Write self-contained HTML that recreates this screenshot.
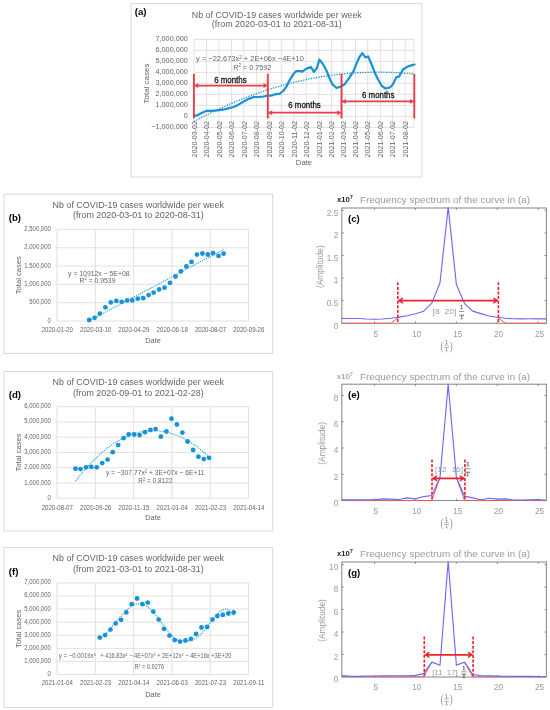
<!DOCTYPE html>
<html><head><meta charset="utf-8"><style>
html,body{margin:0;padding:0;background:#fff;}
svg{display:block;font-family:"Liberation Sans", sans-serif;filter:blur(0.35px);}
</style></head><body>
<svg width="550" height="710" viewBox="0 0 550 710">
<rect width="550" height="710" fill="#fff"/>
<rect x="131" y="3.5" width="291" height="173.5" fill="none" stroke="#d9d9d9" stroke-width="1"/>
<text x="134.8" y="14.6" font-size="9.6" fill="#000" text-anchor="start" font-weight="bold" >(a)</text>
<text x="276.8" y="17.7" font-size="8.85" fill="#646464" text-anchor="middle" textLength="170" lengthAdjust="spacingAndGlyphs" >Nb of COVID-19 cases worldwide per week</text>
<text x="276.8" y="27.2" font-size="8.85" fill="#646464" text-anchor="middle" textLength="130" lengthAdjust="spacingAndGlyphs" >(from 2020-03-01 to 2021-08-31)</text>
<line x1="194" y1="39.4" x2="414" y2="39.4" stroke="#d9d9d9" stroke-width="0.8" />
<line x1="194" y1="50.4" x2="414" y2="50.4" stroke="#d9d9d9" stroke-width="0.8" />
<line x1="194" y1="61.4" x2="414" y2="61.4" stroke="#d9d9d9" stroke-width="0.8" />
<line x1="194" y1="72.4" x2="414" y2="72.4" stroke="#d9d9d9" stroke-width="0.8" />
<line x1="194" y1="83.4" x2="414" y2="83.4" stroke="#d9d9d9" stroke-width="0.8" />
<line x1="194" y1="94.4" x2="414" y2="94.4" stroke="#d9d9d9" stroke-width="0.8" />
<line x1="194" y1="105.4" x2="414" y2="105.4" stroke="#d9d9d9" stroke-width="0.8" />
<line x1="194" y1="116.4" x2="414" y2="116.4" stroke="#d9d9d9" stroke-width="0.8" />
<line x1="194" y1="127.4" x2="414" y2="127.4" stroke="#d9d9d9" stroke-width="0.8" />
<line x1="194" y1="39.4" x2="194" y2="127.4" stroke="#d9d9d9" stroke-width="0.8" />
<line x1="206.64" y1="39.4" x2="206.64" y2="127.4" stroke="#d9d9d9" stroke-width="0.8" />
<line x1="218.88" y1="39.4" x2="218.88" y2="127.4" stroke="#d9d9d9" stroke-width="0.8" />
<line x1="231.52" y1="39.4" x2="231.52" y2="127.4" stroke="#d9d9d9" stroke-width="0.8" />
<line x1="243.75" y1="39.4" x2="243.75" y2="127.4" stroke="#d9d9d9" stroke-width="0.8" />
<line x1="256.39" y1="39.4" x2="256.39" y2="127.4" stroke="#d9d9d9" stroke-width="0.8" />
<line x1="269.04" y1="39.4" x2="269.04" y2="127.4" stroke="#d9d9d9" stroke-width="0.8" />
<line x1="281.27" y1="39.4" x2="281.27" y2="127.4" stroke="#d9d9d9" stroke-width="0.8" />
<line x1="293.91" y1="39.4" x2="293.91" y2="127.4" stroke="#d9d9d9" stroke-width="0.8" />
<line x1="306.14" y1="39.4" x2="306.14" y2="127.4" stroke="#d9d9d9" stroke-width="0.8" />
<line x1="318.79" y1="39.4" x2="318.79" y2="127.4" stroke="#d9d9d9" stroke-width="0.8" />
<line x1="331.43" y1="39.4" x2="331.43" y2="127.4" stroke="#d9d9d9" stroke-width="0.8" />
<line x1="342.85" y1="39.4" x2="342.85" y2="127.4" stroke="#d9d9d9" stroke-width="0.8" />
<line x1="355.49" y1="39.4" x2="355.49" y2="127.4" stroke="#d9d9d9" stroke-width="0.8" />
<line x1="367.72" y1="39.4" x2="367.72" y2="127.4" stroke="#d9d9d9" stroke-width="0.8" />
<line x1="380.36" y1="39.4" x2="380.36" y2="127.4" stroke="#d9d9d9" stroke-width="0.8" />
<line x1="392.6" y1="39.4" x2="392.6" y2="127.4" stroke="#d9d9d9" stroke-width="0.8" />
<line x1="405.24" y1="39.4" x2="405.24" y2="127.4" stroke="#d9d9d9" stroke-width="0.8" />
<line x1="414" y1="39.4" x2="414" y2="127.4" stroke="#d9d9d9" stroke-width="0.8" />
<text x="187.8" y="41.4" font-size="7.25" fill="#646464" text-anchor="end" >7,000,000</text>
<text x="187.8" y="52.4" font-size="7.25" fill="#646464" text-anchor="end" >6,000,000</text>
<text x="187.8" y="63.4" font-size="7.25" fill="#646464" text-anchor="end" >5,000,000</text>
<text x="187.8" y="74.4" font-size="7.25" fill="#646464" text-anchor="end" >4,000,000</text>
<text x="187.8" y="85.4" font-size="7.25" fill="#646464" text-anchor="end" >3,000,000</text>
<text x="187.8" y="96.4" font-size="7.25" fill="#646464" text-anchor="end" >2,000,000</text>
<text x="187.8" y="107.4" font-size="7.25" fill="#646464" text-anchor="end" >1,000,000</text>
<text x="187.8" y="118.4" font-size="7.25" fill="#646464" text-anchor="end" >0</text>
<text x="187.8" y="129.4" font-size="7.25" fill="#646464" text-anchor="end" >−1,000,000</text>
<text transform="translate(194.2,121) rotate(-90)" font-size="7.1" fill="#646464" text-anchor="end" dy="2.55" textLength="36.4" lengthAdjust="spacingAndGlyphs">2020-03-02</text>
<text transform="translate(206.84,121) rotate(-90)" font-size="7.1" fill="#646464" text-anchor="end" dy="2.55" textLength="36.4" lengthAdjust="spacingAndGlyphs">2020-04-02</text>
<text transform="translate(219.08,121) rotate(-90)" font-size="7.1" fill="#646464" text-anchor="end" dy="2.55" textLength="36.4" lengthAdjust="spacingAndGlyphs">2020-05-02</text>
<text transform="translate(231.72,121) rotate(-90)" font-size="7.1" fill="#646464" text-anchor="end" dy="2.55" textLength="36.4" lengthAdjust="spacingAndGlyphs">2020-06-02</text>
<text transform="translate(243.95,121) rotate(-90)" font-size="7.1" fill="#646464" text-anchor="end" dy="2.55" textLength="36.4" lengthAdjust="spacingAndGlyphs">2020-07-02</text>
<text transform="translate(256.59,121) rotate(-90)" font-size="7.1" fill="#646464" text-anchor="end" dy="2.55" textLength="36.4" lengthAdjust="spacingAndGlyphs">2020-08-02</text>
<text transform="translate(269.24,121) rotate(-90)" font-size="7.1" fill="#646464" text-anchor="end" dy="2.55" textLength="36.4" lengthAdjust="spacingAndGlyphs">2020-09-02</text>
<text transform="translate(281.47,121) rotate(-90)" font-size="7.1" fill="#646464" text-anchor="end" dy="2.55" textLength="36.4" lengthAdjust="spacingAndGlyphs">2020-10-02</text>
<text transform="translate(294.11,121) rotate(-90)" font-size="7.1" fill="#646464" text-anchor="end" dy="2.55" textLength="36.4" lengthAdjust="spacingAndGlyphs">2020-11-02</text>
<text transform="translate(306.34,121) rotate(-90)" font-size="7.1" fill="#646464" text-anchor="end" dy="2.55" textLength="36.4" lengthAdjust="spacingAndGlyphs">2020-12-02</text>
<text transform="translate(318.99,121) rotate(-90)" font-size="7.1" fill="#646464" text-anchor="end" dy="2.55" textLength="36.4" lengthAdjust="spacingAndGlyphs">2021-01-02</text>
<text transform="translate(331.63,121) rotate(-90)" font-size="7.1" fill="#646464" text-anchor="end" dy="2.55" textLength="36.4" lengthAdjust="spacingAndGlyphs">2021-02-02</text>
<text transform="translate(343.05,121) rotate(-90)" font-size="7.1" fill="#646464" text-anchor="end" dy="2.55" textLength="36.4" lengthAdjust="spacingAndGlyphs">2021-03-02</text>
<text transform="translate(355.69,121) rotate(-90)" font-size="7.1" fill="#646464" text-anchor="end" dy="2.55" textLength="36.4" lengthAdjust="spacingAndGlyphs">2021-04-02</text>
<text transform="translate(367.92,121) rotate(-90)" font-size="7.1" fill="#646464" text-anchor="end" dy="2.55" textLength="36.4" lengthAdjust="spacingAndGlyphs">2021-05-02</text>
<text transform="translate(380.56,121) rotate(-90)" font-size="7.1" fill="#646464" text-anchor="end" dy="2.55" textLength="36.4" lengthAdjust="spacingAndGlyphs">2021-06-02</text>
<text transform="translate(392.8,121) rotate(-90)" font-size="7.1" fill="#646464" text-anchor="end" dy="2.55" textLength="36.4" lengthAdjust="spacingAndGlyphs">2021-07-02</text>
<text transform="translate(405.44,121) rotate(-90)" font-size="7.1" fill="#646464" text-anchor="end" dy="2.55" textLength="36.4" lengthAdjust="spacingAndGlyphs">2021-08-02</text>
<text transform="translate(149.2,83.5) rotate(-90)" font-size="7.9" fill="#646464" text-anchor="middle" textLength="40" lengthAdjust="spacingAndGlyphs">Total cases</text>
<text x="304" y="164.9" font-size="7.8" fill="#646464" text-anchor="middle" textLength="16.4" lengthAdjust="spacingAndGlyphs" >Date</text>
<polyline points="194,121.43 196,120.37 198,119.31 200,118.27 202,117.24 204,116.22 206,115.21 208,114.22 210,113.23 212,112.26 214,111.3 216,110.35 218,109.41 220,108.49 222,107.57 224,106.67 226,105.78 228,104.9 230,104.03 232,103.17 234,102.33 236,101.5 238,100.68 240,99.87 242,99.07 244,98.28 246,97.51 248,96.75 250,95.99 252,95.25 254,94.53 256,93.81 258,93.11 260,92.41 262,91.73 264,91.06 266,90.4 268,89.76 270,89.12 272,88.5 274,87.89 276,87.29 278,86.7 280,86.12 282,85.56 284,85.01 286,84.47 288,83.94 290,83.42 292,82.91 294,82.42 296,81.93 298,81.46 300,81 302,80.55 304,80.12 306,79.69 308,79.28 310,78.88 312,78.49 314,78.11 316,77.74 318,77.39 320,77.04 322,76.71 324,76.39 326,76.08 328,75.79 330,75.5 332,75.23 334,74.97 336,74.72 338,74.48 340,74.25 342,74.04 344,73.83 346,73.64 348,73.46 350,73.29 352,73.14 354,72.99 356,72.86 358,72.74 360,72.63 362,72.53 364,72.44 366,72.37 368,72.3 370,72.25 372,72.21 374,72.18 376,72.17 378,72.16 380,72.17 382,72.18 384,72.21 386,72.26 388,72.31 390,72.37 392,72.45 394,72.54 396,72.64 398,72.75 400,72.87 402,73.01 404,73.15 406,73.31 408,73.48 410,73.66 412,73.85 414,74.06" fill="none" stroke="#1592d9" stroke-width="1.3" stroke-dasharray="1.3 1.3"/>
<polyline points="194.4,116.2 198.7,114.4 203.1,112.2 206.4,110.9 211.8,110.9 217.3,110.3 222.7,109.7 228.2,108.4 233.6,107 238,104.9 244.5,101 249.4,98.6 253.7,97 259.2,97 263.5,96.5 267.9,95.6 271.2,95.6 275,94.3 279.9,93.7 283.2,91 286.5,86.6 289.7,80.1 293,74.6 296.3,71.1 300.6,71.1 302.2,71.6 306.5,68.6 310.9,67.1 314,71.9 316.9,68.1 319.4,59.6 322.9,64 326.2,70 329.5,78.2 332.7,84.7 336.5,88 340.4,86.7 344.7,84.2 349.1,78.2 353.5,71.1 356.5,63.5 359.5,57 362.4,53.1 365.4,57.5 368.1,56.4 371.4,64 374.6,72.2 377.9,79.3 381.7,85.8 385.5,88.5 389.9,87.5 392.6,84.7 396.5,77.1 399.2,76.5 400.8,73.3 403,69.5 406.3,67.3 410.6,65.6 414.5,64.5" fill="none" stroke="#1592d9" stroke-width="2.2" stroke-linejoin="round" stroke-linecap="round"/>
<text x="250" y="61.3" font-size="7.4" fill="#646464" text-anchor="middle" textLength="107.8" lengthAdjust="spacingAndGlyphs" >y = −22.673x<tspan font-size="4.59" dy="-2.66">2</tspan><tspan dy="2.66"> + 2E+06x −4E+10</tspan></text>
<text x="252.2" y="69.6" font-size="7.3" fill="#646464" text-anchor="middle" textLength="38" lengthAdjust="spacingAndGlyphs" >R<tspan font-size="4.53" dy="-2.63">2</tspan><tspan dy="2.63"> = 0.7592</tspan></text>
<line x1="193.9" y1="73.8" x2="193.9" y2="118.5" stroke="#e63e48" stroke-width="1.9" />
<line x1="267.8" y1="73.8" x2="267.8" y2="118.5" stroke="#e63e48" stroke-width="1.9" />
<line x1="341.5" y1="73.8" x2="341.5" y2="118.5" stroke="#e63e48" stroke-width="1.9" />
<line x1="414.3" y1="73.8" x2="414.3" y2="118.5" stroke="#e63e48" stroke-width="1.9" />
<line x1="195.9" y1="85.6" x2="265.8" y2="85.6" stroke="#e63e48" stroke-width="1.75" />
<path d="M194.2,85.6 l4,-2 l-1,2 l1,2 z" fill="#e63e48" stroke="#e63e48" stroke-width="0.6" stroke-linejoin="round"/>
<path d="M267.5,85.6 l-4,-2 l1,2 l-1,2 z" fill="#e63e48" stroke="#e63e48" stroke-width="0.6" stroke-linejoin="round"/>
<line x1="269.8" y1="112.7" x2="339.5" y2="112.7" stroke="#e63e48" stroke-width="1.75" />
<path d="M268.1,112.7 l4,-2 l-1,2 l1,2 z" fill="#e63e48" stroke="#e63e48" stroke-width="0.6" stroke-linejoin="round"/>
<path d="M341.2,112.7 l-4,-2 l1,2 l-1,2 z" fill="#e63e48" stroke="#e63e48" stroke-width="0.6" stroke-linejoin="round"/>
<line x1="343.5" y1="101.4" x2="412.3" y2="101.4" stroke="#e63e48" stroke-width="1.75" />
<path d="M341.8,101.4 l4,-2 l-1,2 l1,2 z" fill="#e63e48" stroke="#e63e48" stroke-width="0.6" stroke-linejoin="round"/>
<path d="M414,101.4 l-4,-2 l1,2 l-1,2 z" fill="#e63e48" stroke="#e63e48" stroke-width="0.6" stroke-linejoin="round"/>
<text x="230.4" y="82.9" font-size="8.7" fill="#111" text-anchor="middle" textLength="32.4" lengthAdjust="spacingAndGlyphs" stroke="#111" stroke-width="0.28">6 months</text>
<text x="304.5" y="108.4" font-size="8.7" fill="#111" text-anchor="middle" textLength="32.4" lengthAdjust="spacingAndGlyphs" stroke="#111" stroke-width="0.28">6 months</text>
<text x="378.2" y="98.4" font-size="8.7" fill="#111" text-anchor="middle" textLength="32.4" lengthAdjust="spacingAndGlyphs" stroke="#111" stroke-width="0.28">6 months</text>
<rect x="4" y="194.1" width="268.7" height="159.3" fill="none" stroke="#d9d9d9" stroke-width="1"/>
<text x="8.8" y="221" font-size="9.6" fill="#000" text-anchor="start" font-weight="bold" >(b)</text>
<text x="138.3" y="207.7" font-size="8.9" fill="#646464" text-anchor="middle" textLength="171.4" lengthAdjust="spacingAndGlyphs" >Nb of COVID-19 cases worldwide per week</text>
<text x="138.3" y="218.3" font-size="8.9" fill="#646464" text-anchor="middle" textLength="130.7" lengthAdjust="spacingAndGlyphs" >(from 2020-03-01 to 2020-08-31)</text>
<line x1="57" y1="229.4" x2="248.5" y2="229.4" stroke="#d9d9d9" stroke-width="0.8" />
<line x1="57" y1="247.72" x2="248.5" y2="247.72" stroke="#d9d9d9" stroke-width="0.8" />
<line x1="57" y1="266.04" x2="248.5" y2="266.04" stroke="#d9d9d9" stroke-width="0.8" />
<line x1="57" y1="284.36" x2="248.5" y2="284.36" stroke="#d9d9d9" stroke-width="0.8" />
<line x1="57" y1="302.68" x2="248.5" y2="302.68" stroke="#d9d9d9" stroke-width="0.8" />
<line x1="57" y1="321" x2="248.5" y2="321" stroke="#d9d9d9" stroke-width="0.8" />
<line x1="57" y1="229.4" x2="57" y2="321" stroke="#d9d9d9" stroke-width="0.8" />
<line x1="95.3" y1="229.4" x2="95.3" y2="321" stroke="#d9d9d9" stroke-width="0.8" />
<line x1="133.6" y1="229.4" x2="133.6" y2="321" stroke="#d9d9d9" stroke-width="0.8" />
<line x1="171.9" y1="229.4" x2="171.9" y2="321" stroke="#d9d9d9" stroke-width="0.8" />
<line x1="210.2" y1="229.4" x2="210.2" y2="321" stroke="#d9d9d9" stroke-width="0.8" />
<line x1="248.5" y1="229.4" x2="248.5" y2="321" stroke="#d9d9d9" stroke-width="0.8" />
<text x="50.8" y="230.9" font-size="6.6" fill="#646464" text-anchor="end" textLength="26.47" lengthAdjust="spacingAndGlyphs" >2,500,000</text>
<text x="50.8" y="249.22" font-size="6.6" fill="#646464" text-anchor="end" textLength="26.47" lengthAdjust="spacingAndGlyphs" >2,000,000</text>
<text x="50.8" y="267.54" font-size="6.6" fill="#646464" text-anchor="end" textLength="26.47" lengthAdjust="spacingAndGlyphs" >1,500,000</text>
<text x="50.8" y="285.86" font-size="6.6" fill="#646464" text-anchor="end" textLength="26.47" lengthAdjust="spacingAndGlyphs" >1,000,000</text>
<text x="50.8" y="304.18" font-size="6.6" fill="#646464" text-anchor="end" textLength="21.5" lengthAdjust="spacingAndGlyphs" >500,000</text>
<text x="50.8" y="322.5" font-size="6.6" fill="#646464" text-anchor="end" textLength="3.31" lengthAdjust="spacingAndGlyphs" >0</text>
<text x="57.3" y="331.8" font-size="6.7" fill="#646464" text-anchor="middle" textLength="31.2" lengthAdjust="spacingAndGlyphs" >2020-01-20</text>
<text x="95.6" y="331.8" font-size="6.7" fill="#646464" text-anchor="middle" textLength="31.2" lengthAdjust="spacingAndGlyphs" >2020-03-10</text>
<text x="133.9" y="331.8" font-size="6.7" fill="#646464" text-anchor="middle" textLength="31.2" lengthAdjust="spacingAndGlyphs" >2020-04-29</text>
<text x="172.2" y="331.8" font-size="6.7" fill="#646464" text-anchor="middle" textLength="31.2" lengthAdjust="spacingAndGlyphs" >2020-06-18</text>
<text x="210.5" y="331.8" font-size="6.7" fill="#646464" text-anchor="middle" textLength="31.2" lengthAdjust="spacingAndGlyphs" >2020-08-07</text>
<text x="248.8" y="331.8" font-size="6.7" fill="#646464" text-anchor="middle" textLength="31.2" lengthAdjust="spacingAndGlyphs" >2020-09-26</text>
<text transform="translate(20.6,275.2) rotate(-90)" font-size="7.6" fill="#646464" text-anchor="middle" textLength="38" lengthAdjust="spacingAndGlyphs">Total cases</text>
<text x="153" y="343" font-size="7.4" fill="#646464" text-anchor="middle" textLength="15.7" lengthAdjust="spacingAndGlyphs" >Date</text>
<polyline points="89.3,320.6 224,249.3" fill="none" stroke="#1592d9" stroke-width="1.05" stroke-dasharray="1.1 1.1"/>
<circle cx="89.2" cy="320" r="2.4" fill="#1592d9"/>
<circle cx="94.6" cy="317.8" r="2.4" fill="#1592d9"/>
<circle cx="99.9" cy="313.6" r="2.4" fill="#1592d9"/>
<circle cx="105.4" cy="307.3" r="2.4" fill="#1592d9"/>
<circle cx="110.8" cy="302.4" r="2.4" fill="#1592d9"/>
<circle cx="116.3" cy="300.9" r="2.4" fill="#1592d9"/>
<circle cx="121.7" cy="301.8" r="2.4" fill="#1592d9"/>
<circle cx="127.2" cy="300.4" r="2.4" fill="#1592d9"/>
<circle cx="132.3" cy="300.4" r="2.4" fill="#1592d9"/>
<circle cx="137.7" cy="298.7" r="2.4" fill="#1592d9"/>
<circle cx="143.2" cy="298.2" r="2.4" fill="#1592d9"/>
<circle cx="148.6" cy="295.1" r="2.4" fill="#1592d9"/>
<circle cx="153.6" cy="292.6" r="2.4" fill="#1592d9"/>
<circle cx="159.1" cy="289.5" r="2.4" fill="#1592d9"/>
<circle cx="164.5" cy="287.7" r="2.4" fill="#1592d9"/>
<circle cx="170" cy="282.8" r="2.4" fill="#1592d9"/>
<circle cx="175.5" cy="276.5" r="2.4" fill="#1592d9"/>
<circle cx="180.9" cy="271.4" r="2.4" fill="#1592d9"/>
<circle cx="186.4" cy="266.5" r="2.4" fill="#1592d9"/>
<circle cx="191.5" cy="261.9" r="2.4" fill="#1592d9"/>
<circle cx="196.9" cy="254.6" r="2.4" fill="#1592d9"/>
<circle cx="202.4" cy="253.5" r="2.4" fill="#1592d9"/>
<circle cx="207.8" cy="254.5" r="2.4" fill="#1592d9"/>
<circle cx="213.1" cy="253.2" r="2.4" fill="#1592d9"/>
<circle cx="218.5" cy="255.9" r="2.4" fill="#1592d9"/>
<circle cx="223.6" cy="253.7" r="2.4" fill="#1592d9"/>
<text x="98.8" y="275.7" font-size="7.2" fill="#646464" text-anchor="middle" textLength="61.4" lengthAdjust="spacingAndGlyphs" >y = 10912x − 5E+08</text>
<text x="97.5" y="282.6" font-size="7.2" fill="#646464" text-anchor="middle" textLength="35.9" lengthAdjust="spacingAndGlyphs" >R<tspan font-size="4.46" dy="-2.59">2</tspan><tspan dy="2.59"> = 0.9539</tspan></text>
<rect x="4" y="371.5" width="268.7" height="159.5" fill="none" stroke="#d9d9d9" stroke-width="1"/>
<text x="8.8" y="398.3" font-size="9.6" fill="#000" text-anchor="start" font-weight="bold" >(d)</text>
<text x="138.3" y="385" font-size="8.9" fill="#646464" text-anchor="middle" textLength="171.4" lengthAdjust="spacingAndGlyphs" >Nb of COVID-19 cases worldwide per week</text>
<text x="138.3" y="395.6" font-size="8.9" fill="#646464" text-anchor="middle" textLength="130.7" lengthAdjust="spacingAndGlyphs" >(from 2020-09-01 to 2021-02-28)</text>
<line x1="57" y1="406.7" x2="248.5" y2="406.7" stroke="#d9d9d9" stroke-width="0.8" />
<line x1="57" y1="421.97" x2="248.5" y2="421.97" stroke="#d9d9d9" stroke-width="0.8" />
<line x1="57" y1="437.23" x2="248.5" y2="437.23" stroke="#d9d9d9" stroke-width="0.8" />
<line x1="57" y1="452.5" x2="248.5" y2="452.5" stroke="#d9d9d9" stroke-width="0.8" />
<line x1="57" y1="467.77" x2="248.5" y2="467.77" stroke="#d9d9d9" stroke-width="0.8" />
<line x1="57" y1="483.03" x2="248.5" y2="483.03" stroke="#d9d9d9" stroke-width="0.8" />
<line x1="57" y1="498.3" x2="248.5" y2="498.3" stroke="#d9d9d9" stroke-width="0.8" />
<line x1="57" y1="406.7" x2="57" y2="498.3" stroke="#d9d9d9" stroke-width="0.8" />
<line x1="95.3" y1="406.7" x2="95.3" y2="498.3" stroke="#d9d9d9" stroke-width="0.8" />
<line x1="133.6" y1="406.7" x2="133.6" y2="498.3" stroke="#d9d9d9" stroke-width="0.8" />
<line x1="171.9" y1="406.7" x2="171.9" y2="498.3" stroke="#d9d9d9" stroke-width="0.8" />
<line x1="210.2" y1="406.7" x2="210.2" y2="498.3" stroke="#d9d9d9" stroke-width="0.8" />
<line x1="248.5" y1="406.7" x2="248.5" y2="498.3" stroke="#d9d9d9" stroke-width="0.8" />
<text x="50.8" y="408.2" font-size="6.6" fill="#646464" text-anchor="end" textLength="26.47" lengthAdjust="spacingAndGlyphs" >6,000,000</text>
<text x="50.8" y="423.47" font-size="6.6" fill="#646464" text-anchor="end" textLength="26.47" lengthAdjust="spacingAndGlyphs" >5,000,000</text>
<text x="50.8" y="438.73" font-size="6.6" fill="#646464" text-anchor="end" textLength="26.47" lengthAdjust="spacingAndGlyphs" >4,000,000</text>
<text x="50.8" y="454" font-size="6.6" fill="#646464" text-anchor="end" textLength="26.47" lengthAdjust="spacingAndGlyphs" >3,000,000</text>
<text x="50.8" y="469.27" font-size="6.6" fill="#646464" text-anchor="end" textLength="26.47" lengthAdjust="spacingAndGlyphs" >2,000,000</text>
<text x="50.8" y="484.53" font-size="6.6" fill="#646464" text-anchor="end" textLength="26.47" lengthAdjust="spacingAndGlyphs" >1,000,000</text>
<text x="50.8" y="499.8" font-size="6.6" fill="#646464" text-anchor="end" textLength="3.31" lengthAdjust="spacingAndGlyphs" >0</text>
<text x="57.3" y="510" font-size="6.7" fill="#646464" text-anchor="middle" textLength="31.2" lengthAdjust="spacingAndGlyphs" >2020-08-07</text>
<text x="95.6" y="510" font-size="6.7" fill="#646464" text-anchor="middle" textLength="31.2" lengthAdjust="spacingAndGlyphs" >2020-09-26</text>
<text x="133.9" y="510" font-size="6.7" fill="#646464" text-anchor="middle" textLength="31.2" lengthAdjust="spacingAndGlyphs" >2020-11-15</text>
<text x="172.2" y="510" font-size="6.7" fill="#646464" text-anchor="middle" textLength="31.2" lengthAdjust="spacingAndGlyphs" >2021-01-04</text>
<text x="210.5" y="510" font-size="6.7" fill="#646464" text-anchor="middle" textLength="31.2" lengthAdjust="spacingAndGlyphs" >2021-02-23</text>
<text x="248.8" y="510" font-size="6.7" fill="#646464" text-anchor="middle" textLength="31.2" lengthAdjust="spacingAndGlyphs" >2021-04-14</text>
<text transform="translate(20.6,452.5) rotate(-90)" font-size="7.6" fill="#646464" text-anchor="middle" textLength="38" lengthAdjust="spacingAndGlyphs">Total cases</text>
<text x="153" y="520.3" font-size="7.4" fill="#646464" text-anchor="middle" textLength="15.7" lengthAdjust="spacingAndGlyphs" >Date</text>
<polyline points="75.5,481.13 77.5,478.56 79.5,476.06 81.5,473.62 83.5,471.25 85.5,468.95 87.5,466.72 89.5,464.55 91.5,462.45 93.5,460.42 95.5,458.46 97.5,456.56 99.5,454.73 101.5,452.96 103.5,451.27 105.5,449.64 107.5,448.07 109.5,446.58 111.5,445.15 113.5,443.79 115.5,442.49 117.5,441.27 119.5,440.11 121.5,439.01 123.5,437.99 125.5,437.03 127.5,436.14 129.5,435.31 131.5,434.56 133.5,433.87 135.5,433.24 137.5,432.69 139.5,432.2 141.5,431.77 143.5,431.42 145.5,431.13 147.5,430.91 149.5,430.76 151.5,430.67 153.5,430.65 155.5,430.7 157.5,430.81 159.5,431 161.5,431.24 163.5,431.56 165.5,431.94 167.5,432.39 169.5,432.91 171.5,433.5 173.5,434.15 175.5,434.87 177.5,435.65 179.5,436.5 181.5,437.42 183.5,438.41 185.5,439.47 187.5,440.59 189.5,441.77 191.5,443.03 193.5,444.35 195.5,445.74 197.5,447.2 199.5,448.72 201.5,450.31 203.5,451.97 205.5,453.7 207.5,455.49" fill="none" stroke="#1592d9" stroke-width="1.05" stroke-dasharray="1.1 1.1"/>
<circle cx="75.5" cy="468.7" r="2.4" fill="#1592d9"/>
<circle cx="80.5" cy="469.1" r="2.4" fill="#1592d9"/>
<circle cx="86" cy="467.3" r="2.4" fill="#1592d9"/>
<circle cx="91.3" cy="466.9" r="2.4" fill="#1592d9"/>
<circle cx="96.7" cy="467.3" r="2.4" fill="#1592d9"/>
<circle cx="102.2" cy="463.1" r="2.4" fill="#1592d9"/>
<circle cx="107.6" cy="459.6" r="2.4" fill="#1592d9"/>
<circle cx="112.7" cy="452.2" r="2.4" fill="#1592d9"/>
<circle cx="118.2" cy="445.1" r="2.4" fill="#1592d9"/>
<circle cx="123.6" cy="438.2" r="2.4" fill="#1592d9"/>
<circle cx="128.7" cy="434.5" r="2.4" fill="#1592d9"/>
<circle cx="134.2" cy="434.5" r="2.4" fill="#1592d9"/>
<circle cx="139.6" cy="435.1" r="2.4" fill="#1592d9"/>
<circle cx="144.9" cy="432.2" r="2.4" fill="#1592d9"/>
<circle cx="150.4" cy="430" r="2.4" fill="#1592d9"/>
<circle cx="155.6" cy="429.1" r="2.4" fill="#1592d9"/>
<circle cx="160.9" cy="436.7" r="2.4" fill="#1592d9"/>
<circle cx="166.4" cy="431.5" r="2.4" fill="#1592d9"/>
<circle cx="171.5" cy="418.7" r="2.4" fill="#1592d9"/>
<circle cx="176.9" cy="424.5" r="2.4" fill="#1592d9"/>
<circle cx="182.4" cy="432.7" r="2.4" fill="#1592d9"/>
<circle cx="187.6" cy="441.5" r="2.4" fill="#1592d9"/>
<circle cx="193.1" cy="450" r="2.4" fill="#1592d9"/>
<circle cx="198.4" cy="456.7" r="2.4" fill="#1592d9"/>
<circle cx="203.8" cy="459.1" r="2.4" fill="#1592d9"/>
<circle cx="209.1" cy="457.8" r="2.4" fill="#1592d9"/>
<text x="155.2" y="475.3" font-size="7.2" fill="#646464" text-anchor="middle" textLength="98.6" lengthAdjust="spacingAndGlyphs" >y = −307.77x<tspan font-size="4.46" dy="-2.59">2</tspan><tspan dy="2.59"> + 3E+07x − 6E+11</tspan></text>
<text x="155.4" y="483.3" font-size="7.2" fill="#646464" text-anchor="middle" textLength="34.3" lengthAdjust="spacingAndGlyphs" >R<tspan font-size="4.46" dy="-2.59">2</tspan><tspan dy="2.59"> = 0.8122</tspan></text>
<rect x="4" y="547.6" width="268.7" height="159.8" fill="none" stroke="#d9d9d9" stroke-width="1"/>
<text x="8.8" y="574.5" font-size="9.6" fill="#000" text-anchor="start" font-weight="bold" >(f)</text>
<text x="138.3" y="561.2" font-size="8.9" fill="#646464" text-anchor="middle" textLength="171.4" lengthAdjust="spacingAndGlyphs" >Nb of COVID-19 cases worldwide per week</text>
<text x="138.3" y="571.8" font-size="8.9" fill="#646464" text-anchor="middle" textLength="130.7" lengthAdjust="spacingAndGlyphs" >(from 2021-03-01 to 2021-08-31)</text>
<line x1="57" y1="582.9" x2="248.5" y2="582.9" stroke="#d9d9d9" stroke-width="0.8" />
<line x1="57" y1="595.99" x2="248.5" y2="595.99" stroke="#d9d9d9" stroke-width="0.8" />
<line x1="57" y1="609.07" x2="248.5" y2="609.07" stroke="#d9d9d9" stroke-width="0.8" />
<line x1="57" y1="622.16" x2="248.5" y2="622.16" stroke="#d9d9d9" stroke-width="0.8" />
<line x1="57" y1="635.24" x2="248.5" y2="635.24" stroke="#d9d9d9" stroke-width="0.8" />
<line x1="57" y1="648.33" x2="248.5" y2="648.33" stroke="#d9d9d9" stroke-width="0.8" />
<line x1="57" y1="661.41" x2="248.5" y2="661.41" stroke="#d9d9d9" stroke-width="0.8" />
<line x1="57" y1="674.5" x2="248.5" y2="674.5" stroke="#d9d9d9" stroke-width="0.8" />
<line x1="57" y1="582.9" x2="57" y2="674.5" stroke="#d9d9d9" stroke-width="0.8" />
<line x1="95.3" y1="582.9" x2="95.3" y2="674.5" stroke="#d9d9d9" stroke-width="0.8" />
<line x1="133.6" y1="582.9" x2="133.6" y2="674.5" stroke="#d9d9d9" stroke-width="0.8" />
<line x1="171.9" y1="582.9" x2="171.9" y2="674.5" stroke="#d9d9d9" stroke-width="0.8" />
<line x1="210.2" y1="582.9" x2="210.2" y2="674.5" stroke="#d9d9d9" stroke-width="0.8" />
<line x1="248.5" y1="582.9" x2="248.5" y2="674.5" stroke="#d9d9d9" stroke-width="0.8" />
<text x="50.8" y="584.4" font-size="6.6" fill="#646464" text-anchor="end" textLength="26.47" lengthAdjust="spacingAndGlyphs" >7,000,000</text>
<text x="50.8" y="597.49" font-size="6.6" fill="#646464" text-anchor="end" textLength="26.47" lengthAdjust="spacingAndGlyphs" >6,000,000</text>
<text x="50.8" y="610.57" font-size="6.6" fill="#646464" text-anchor="end" textLength="26.47" lengthAdjust="spacingAndGlyphs" >5,000,000</text>
<text x="50.8" y="623.66" font-size="6.6" fill="#646464" text-anchor="end" textLength="26.47" lengthAdjust="spacingAndGlyphs" >4,000,000</text>
<text x="50.8" y="636.74" font-size="6.6" fill="#646464" text-anchor="end" textLength="26.47" lengthAdjust="spacingAndGlyphs" >3,000,000</text>
<text x="50.8" y="649.83" font-size="6.6" fill="#646464" text-anchor="end" textLength="26.47" lengthAdjust="spacingAndGlyphs" >2,000,000</text>
<text x="50.8" y="662.91" font-size="6.6" fill="#646464" text-anchor="end" textLength="26.47" lengthAdjust="spacingAndGlyphs" >1,000,000</text>
<text x="50.8" y="676" font-size="6.6" fill="#646464" text-anchor="end" textLength="3.31" lengthAdjust="spacingAndGlyphs" >0</text>
<text x="57.3" y="685.3" font-size="6.7" fill="#646464" text-anchor="middle" textLength="31.2" lengthAdjust="spacingAndGlyphs" >2021-01-04</text>
<text x="95.6" y="685.3" font-size="6.7" fill="#646464" text-anchor="middle" textLength="31.2" lengthAdjust="spacingAndGlyphs" >2021-02-23</text>
<text x="133.9" y="685.3" font-size="6.7" fill="#646464" text-anchor="middle" textLength="31.2" lengthAdjust="spacingAndGlyphs" >2021-04-14</text>
<text x="172.2" y="685.3" font-size="6.7" fill="#646464" text-anchor="middle" textLength="31.2" lengthAdjust="spacingAndGlyphs" >2021-06-03</text>
<text x="210.5" y="685.3" font-size="6.7" fill="#646464" text-anchor="middle" textLength="31.2" lengthAdjust="spacingAndGlyphs" >2021-07-23</text>
<text x="248.8" y="685.3" font-size="6.7" fill="#646464" text-anchor="middle" textLength="31.2" lengthAdjust="spacingAndGlyphs" >2021-09-11</text>
<text transform="translate(20.6,628.7) rotate(-90)" font-size="7.6" fill="#646464" text-anchor="middle" textLength="38" lengthAdjust="spacingAndGlyphs">Total cases</text>
<text x="153" y="696.5" font-size="7.4" fill="#646464" text-anchor="middle" textLength="15.7" lengthAdjust="spacingAndGlyphs" >Date</text>
<polyline points="99.8,639 105,634.5 110.5,628.5 116,622 121,616.5 126.5,610.5 132,605.5 137,603.6 142,604 147,606.5 152,610.5 157,616.5 162,623 167,630 172,636 177,639.8 182,641.2 187,641.2 191.5,640.5 195.9,638.4 199.1,636.2 202.3,632.7 206.1,628.6 209.6,623.5 212.5,619.6 216.8,614.5 221.4,610.2 225,608.8 227.7,609.3 230.5,611.6 233.7,615.8" fill="none" stroke="#1592d9" stroke-width="1.05" stroke-dasharray="1.1 1.1"/>
<circle cx="99.8" cy="637.6" r="2.4" fill="#1592d9"/>
<circle cx="105.1" cy="635.1" r="2.4" fill="#1592d9"/>
<circle cx="110.5" cy="629.6" r="2.4" fill="#1592d9"/>
<circle cx="115.7" cy="623.4" r="2.4" fill="#1592d9"/>
<circle cx="121.1" cy="619.8" r="2.4" fill="#1592d9"/>
<circle cx="126.3" cy="612.4" r="2.4" fill="#1592d9"/>
<circle cx="131.7" cy="604.2" r="2.4" fill="#1592d9"/>
<circle cx="137.1" cy="598.5" r="2.4" fill="#1592d9"/>
<circle cx="142.4" cy="604.2" r="2.4" fill="#1592d9"/>
<circle cx="147.8" cy="602.6" r="2.4" fill="#1592d9"/>
<circle cx="153.3" cy="611.6" r="2.4" fill="#1592d9"/>
<circle cx="158.7" cy="619.6" r="2.4" fill="#1592d9"/>
<circle cx="164" cy="628.8" r="2.4" fill="#1592d9"/>
<circle cx="169.5" cy="635.6" r="2.4" fill="#1592d9"/>
<circle cx="174.7" cy="640.1" r="2.4" fill="#1592d9"/>
<circle cx="180.1" cy="641.6" r="2.4" fill="#1592d9"/>
<circle cx="185.5" cy="640.5" r="2.4" fill="#1592d9"/>
<circle cx="190.9" cy="638.9" r="2.4" fill="#1592d9"/>
<circle cx="196.1" cy="634" r="2.4" fill="#1592d9"/>
<circle cx="201.5" cy="627.5" r="2.4" fill="#1592d9"/>
<circle cx="207.1" cy="627" r="2.4" fill="#1592d9"/>
<circle cx="212.5" cy="619.6" r="2.4" fill="#1592d9"/>
<circle cx="217.4" cy="616" r="2.4" fill="#1592d9"/>
<circle cx="222.8" cy="614.9" r="2.4" fill="#1592d9"/>
<circle cx="228.3" cy="613.5" r="2.4" fill="#1592d9"/>
<circle cx="233.7" cy="612.4" r="2.4" fill="#1592d9"/>
<text x="77.3" y="658.2" font-size="7" fill="#646464" text-anchor="middle" textLength="36.9" lengthAdjust="spacingAndGlyphs" >y = −0.0019x<tspan font-size="4.34" dy="-2.52">5</tspan></text>
<text x="165.8" y="658.2" font-size="7" fill="#646464" text-anchor="middle" textLength="131" lengthAdjust="spacingAndGlyphs" >+ 416.83x<tspan font-size="4.34" dy="-2.52">4</tspan><tspan dy="2.52"> − 4E+07x</tspan><tspan font-size="4.34" dy="-2.52">3</tspan><tspan dy="2.52"> + 2E+12x</tspan><tspan font-size="4.34" dy="-2.52">2</tspan><tspan dy="2.52"> − 4E+16x +3E+20</tspan></text>
<text x="149.3" y="669.1" font-size="6.8" fill="#646464" text-anchor="middle" textLength="29.5" lengthAdjust="spacingAndGlyphs" >R<tspan font-size="4.22" dy="-2.45">2</tspan><tspan dy="2.45"> = 0.9276</tspan></text>
<text x="337" y="201.9" font-size="7.6" fill="#262626" text-anchor="start" font-weight="bold" textLength="12.8" lengthAdjust="spacingAndGlyphs" >x10</text>
<text x="350" y="199.2" font-size="5" fill="#262626" text-anchor="start" font-weight="bold" >7</text>
<text x="360" y="202.5" font-size="9.9" fill="#9a9a9a" text-anchor="start" textLength="170" lengthAdjust="spacingAndGlyphs" >Frequency spectrum of the curve in (a)</text>
<rect x="341.8" y="208" width="204.6" height="115.3" fill="none" stroke="#8f8f8f" stroke-width="1.1"/>
<line x1="374.54" y1="323.3" x2="374.54" y2="321.3" stroke="#555" stroke-width="0.6" />
<line x1="374.54" y1="208" x2="374.54" y2="210" stroke="#555" stroke-width="0.6" />
<text x="375.84" y="336.7" font-size="8.2" fill="#9a9a9a" text-anchor="middle" >5</text>
<line x1="415.46" y1="323.3" x2="415.46" y2="321.3" stroke="#555" stroke-width="0.6" />
<line x1="415.46" y1="208" x2="415.46" y2="210" stroke="#555" stroke-width="0.6" />
<text x="416.76" y="336.7" font-size="8.2" fill="#9a9a9a" text-anchor="middle" >10</text>
<line x1="456.38" y1="323.3" x2="456.38" y2="321.3" stroke="#555" stroke-width="0.6" />
<line x1="456.38" y1="208" x2="456.38" y2="210" stroke="#555" stroke-width="0.6" />
<text x="457.68" y="336.7" font-size="8.2" fill="#9a9a9a" text-anchor="middle" >15</text>
<line x1="497.3" y1="323.3" x2="497.3" y2="321.3" stroke="#555" stroke-width="0.6" />
<line x1="497.3" y1="208" x2="497.3" y2="210" stroke="#555" stroke-width="0.6" />
<text x="498.6" y="336.7" font-size="8.2" fill="#9a9a9a" text-anchor="middle" >20</text>
<line x1="538.22" y1="323.3" x2="538.22" y2="321.3" stroke="#555" stroke-width="0.6" />
<line x1="538.22" y1="208" x2="538.22" y2="210" stroke="#555" stroke-width="0.6" />
<text x="539.52" y="336.7" font-size="8.2" fill="#9a9a9a" text-anchor="middle" >25</text>
<line x1="341.8" y1="210.31" x2="343.8" y2="210.31" stroke="#555" stroke-width="0.6" />
<line x1="546.4" y1="210.31" x2="544.4" y2="210.31" stroke="#555" stroke-width="0.6" />
<text x="338.2" y="215.61" font-size="8.2" fill="#9a9a9a" text-anchor="end" >2.5</text>
<line x1="341.8" y1="232.9" x2="343.8" y2="232.9" stroke="#555" stroke-width="0.6" />
<line x1="546.4" y1="232.9" x2="544.4" y2="232.9" stroke="#555" stroke-width="0.6" />
<text x="338.2" y="238.2" font-size="8.2" fill="#9a9a9a" text-anchor="end" >2</text>
<line x1="341.8" y1="255.5" x2="343.8" y2="255.5" stroke="#555" stroke-width="0.6" />
<line x1="546.4" y1="255.5" x2="544.4" y2="255.5" stroke="#555" stroke-width="0.6" />
<text x="338.2" y="260.8" font-size="8.2" fill="#9a9a9a" text-anchor="end" >1.5</text>
<line x1="341.8" y1="278.1" x2="343.8" y2="278.1" stroke="#555" stroke-width="0.6" />
<line x1="546.4" y1="278.1" x2="544.4" y2="278.1" stroke="#555" stroke-width="0.6" />
<text x="338.2" y="283.4" font-size="8.2" fill="#9a9a9a" text-anchor="end" >1</text>
<line x1="341.8" y1="300.7" x2="343.8" y2="300.7" stroke="#555" stroke-width="0.6" />
<line x1="546.4" y1="300.7" x2="544.4" y2="300.7" stroke="#555" stroke-width="0.6" />
<text x="338.2" y="306" font-size="8.2" fill="#9a9a9a" text-anchor="end" >0.5</text>
<text x="338.2" y="328.6" font-size="8.2" fill="#9a9a9a" text-anchor="end" >0</text>
<text transform="translate(322.5,266.65) rotate(-90)" font-size="8.3" fill="#9a9a9a" text-anchor="middle" textLength="42.7" lengthAdjust="spacingAndGlyphs">(Amplitude)</text>
<text x="0" y="0" font-size="13" fill="#9a9a9a" text-anchor="middle" font-family='&quot;Liberation Serif&quot;, serif' transform="translate(442.2,349.6) scale(0.75,1) translate(0,0)">(</text>
<text x="0" y="0" font-size="13" fill="#9a9a9a" text-anchor="middle" font-family='&quot;Liberation Serif&quot;, serif' transform="translate(451.2,349.6) scale(0.75,1) translate(0,0)">)</text>
<text x="446.6" y="344.1" font-size="6.2" fill="#9a9a9a" text-anchor="middle" font-family='"Liberation Serif", serif' stroke="#9a9a9a" stroke-width="0.25">1</text>
<line x1="444.3" y1="345.3" x2="448.9" y2="345.3" stroke="#9a9a9a" stroke-width="0.7" />
<text x="446.6" y="351" font-size="6.2" fill="#9a9a9a" text-anchor="middle" font-family='"Liberation Serif", serif' stroke="#9a9a9a" stroke-width="0.25">T</text>
<clipPath id="clipc"><rect x="341.8" y="207.5" width="204.6" height="116.3"/></clipPath>
<polyline points="341.8,323.3 349.98,323.3 358.17,323.3 366.35,323.3 374.54,323.3 382.72,323.3 390.9,323.3 399.09,317.1" fill="none" stroke="#ff5050" stroke-width="1" clip-path="url(#clipc)" stroke-linejoin="round"/>
<polyline points="497.3,317.3 505.48,323.3 513.66,323.3 521.85,323.3 530.03,323.3 538.22,323.3 546.4,323.3" fill="none" stroke="#ff5050" stroke-width="1" clip-path="url(#clipc)" stroke-linejoin="round"/>
<polyline points="341.8,318.5 349.98,318.5 358.17,318.5 366.35,319 374.54,319.3 382.72,319 390.9,318.3 399.09,317.1 407.27,315.8 415.46,313.8 423.64,311.2 431.82,303.1 440.01,282.8 448.19,207.01 456.38,284.5 464.56,303.6 472.74,311.1 480.93,313.6 489.11,316 497.3,317.3 505.48,318.3 513.66,318.8 521.85,318.9 530.03,318.8 538.22,318.8 546.4,318.9" fill="none" stroke="#6a6af6" stroke-width="1.15" clip-path="url(#clipc)" stroke-linejoin="round"/>
<line x1="397.8" y1="282.3" x2="397.8" y2="323.3" stroke="#f01c24" stroke-width="1.6" stroke-dasharray="3 1.6"/>
<line x1="498.4" y1="282.3" x2="498.4" y2="323.3" stroke="#f01c24" stroke-width="1.6" stroke-dasharray="3 1.6"/>
<line x1="398.8" y1="300.6" x2="497.4" y2="300.6" stroke="#e8242c" stroke-width="1.8" />
<path d="M398.2,300.6 l4.6,-2.7 l-1.7,2.7 l1.7,2.7 z" stroke="#e8242c" stroke-width="0.9" fill="#e8242c" stroke-linejoin="round"/>
<path d="M498,300.6 l-4.6,-2.7 l1.7,2.7 l-1.7,2.7 z" stroke="#e8242c" stroke-width="0.9" fill="#e8242c" stroke-linejoin="round"/>
<text x="432.5" y="314.4" font-size="8.1" fill="#9a9a9a" text-anchor="start" textLength="23.8" lengthAdjust="spacingAndGlyphs" xml:space="preserve">[8  20]</text>
<text x="461.6" y="308.9" font-size="7" fill="#707070" text-anchor="middle" font-family='"Liberation Serif", serif' stroke="#707070" stroke-width="0.3">1</text>
<line x1="458.9" y1="311.4" x2="464.3" y2="311.4" stroke="#707070" stroke-width="0.75" />
<text x="461.6" y="319" font-size="7" fill="#707070" text-anchor="middle" font-family='"Liberation Serif", serif' stroke="#707070" stroke-width="0.3">T</text>
<text x="348" y="221.8" font-size="9.6" fill="#000" text-anchor="start" font-weight="bold" >(c)</text>
<text x="337" y="378.8" font-size="7.6" fill="#858585" text-anchor="start" textLength="12.8" lengthAdjust="spacingAndGlyphs" >x10</text>
<text x="350" y="376.1" font-size="5" fill="#858585" text-anchor="start" >7</text>
<text x="360" y="379.5" font-size="9.9" fill="#9a9a9a" text-anchor="start" textLength="170" lengthAdjust="spacingAndGlyphs" >Frequency spectrum of the curve in (a)</text>
<rect x="341.8" y="384.2" width="204.6" height="116.3" fill="none" stroke="#8f8f8f" stroke-width="1.1"/>
<line x1="374.54" y1="500.5" x2="374.54" y2="498.5" stroke="#555" stroke-width="0.6" />
<line x1="374.54" y1="384.2" x2="374.54" y2="386.2" stroke="#555" stroke-width="0.6" />
<text x="375.84" y="513.9" font-size="8.2" fill="#9a9a9a" text-anchor="middle" >5</text>
<line x1="415.46" y1="500.5" x2="415.46" y2="498.5" stroke="#555" stroke-width="0.6" />
<line x1="415.46" y1="384.2" x2="415.46" y2="386.2" stroke="#555" stroke-width="0.6" />
<text x="416.76" y="513.9" font-size="8.2" fill="#9a9a9a" text-anchor="middle" >10</text>
<line x1="456.38" y1="500.5" x2="456.38" y2="498.5" stroke="#555" stroke-width="0.6" />
<line x1="456.38" y1="384.2" x2="456.38" y2="386.2" stroke="#555" stroke-width="0.6" />
<text x="457.68" y="513.9" font-size="8.2" fill="#9a9a9a" text-anchor="middle" >15</text>
<line x1="497.3" y1="500.5" x2="497.3" y2="498.5" stroke="#555" stroke-width="0.6" />
<line x1="497.3" y1="384.2" x2="497.3" y2="386.2" stroke="#555" stroke-width="0.6" />
<text x="498.6" y="513.9" font-size="8.2" fill="#9a9a9a" text-anchor="middle" >20</text>
<line x1="538.22" y1="500.5" x2="538.22" y2="498.5" stroke="#555" stroke-width="0.6" />
<line x1="538.22" y1="384.2" x2="538.22" y2="386.2" stroke="#555" stroke-width="0.6" />
<text x="539.52" y="513.9" font-size="8.2" fill="#9a9a9a" text-anchor="middle" >25</text>
<line x1="341.8" y1="395.49" x2="343.8" y2="395.49" stroke="#555" stroke-width="0.6" />
<line x1="546.4" y1="395.49" x2="544.4" y2="395.49" stroke="#555" stroke-width="0.6" />
<text x="338.2" y="400.79" font-size="8.2" fill="#9a9a9a" text-anchor="end" >8</text>
<line x1="341.8" y1="421.74" x2="343.8" y2="421.74" stroke="#555" stroke-width="0.6" />
<line x1="546.4" y1="421.74" x2="544.4" y2="421.74" stroke="#555" stroke-width="0.6" />
<text x="338.2" y="427.04" font-size="8.2" fill="#9a9a9a" text-anchor="end" >6</text>
<line x1="341.8" y1="447.99" x2="343.8" y2="447.99" stroke="#555" stroke-width="0.6" />
<line x1="546.4" y1="447.99" x2="544.4" y2="447.99" stroke="#555" stroke-width="0.6" />
<text x="338.2" y="453.29" font-size="8.2" fill="#9a9a9a" text-anchor="end" >4</text>
<line x1="341.8" y1="474.25" x2="343.8" y2="474.25" stroke="#555" stroke-width="0.6" />
<line x1="546.4" y1="474.25" x2="544.4" y2="474.25" stroke="#555" stroke-width="0.6" />
<text x="338.2" y="479.55" font-size="8.2" fill="#9a9a9a" text-anchor="end" >2</text>
<text x="338.2" y="505.8" font-size="8.2" fill="#9a9a9a" text-anchor="end" >0</text>
<text transform="translate(325,443.35) rotate(-90)" font-size="8.3" fill="#9a9a9a" text-anchor="middle" textLength="42.7" lengthAdjust="spacingAndGlyphs">(Amplitude)</text>
<text x="0" y="0" font-size="13" fill="#9a9a9a" text-anchor="middle" font-family='&quot;Liberation Serif&quot;, serif' transform="translate(442.2,526.8) scale(0.75,1) translate(0,0)">(</text>
<text x="0" y="0" font-size="13" fill="#9a9a9a" text-anchor="middle" font-family='&quot;Liberation Serif&quot;, serif' transform="translate(451.2,526.8) scale(0.75,1) translate(0,0)">)</text>
<text x="446.6" y="521.3" font-size="6.2" fill="#9a9a9a" text-anchor="middle" font-family='"Liberation Serif", serif' stroke="#9a9a9a" stroke-width="0.25">1</text>
<line x1="444.3" y1="522.5" x2="448.9" y2="522.5" stroke="#9a9a9a" stroke-width="0.7" />
<text x="446.6" y="528.2" font-size="6.2" fill="#9a9a9a" text-anchor="middle" font-family='"Liberation Serif", serif' stroke="#9a9a9a" stroke-width="0.25">T</text>
<clipPath id="clipe"><rect x="341.8" y="383.7" width="204.6" height="117.3"/></clipPath>
<polyline points="341.8,500.5 349.98,500.5 358.17,500.5 366.35,500.5 374.54,500.5 382.72,500.5 390.9,500.5 399.09,500.5 407.27,500.5 415.46,500.5 423.64,500.5 431.82,500.5 440.01,477.53" fill="none" stroke="#ff5050" stroke-width="1" clip-path="url(#clipe)" stroke-linejoin="round"/>
<polyline points="456.38,477.53 464.56,500.5 472.74,500.5 480.93,500.5 489.11,500.5 497.3,500.5 505.48,500.5 513.66,500.5 521.85,500.5 530.03,500.5 538.22,500.5 546.4,500.5" fill="none" stroke="#ff5050" stroke-width="1" clip-path="url(#clipe)" stroke-linejoin="round"/>
<polyline points="341.8,499.84 349.98,499.84 358.17,499.71 366.35,499.84 374.54,499.84 382.72,498.92 390.9,499.19 399.09,499.45 407.27,497.87 415.46,498.92 423.64,496.56 431.82,495.51 440.01,477.53 448.19,384.2 456.38,477.53 464.56,496.17 472.74,497.87 480.93,499.71 489.11,498.27 497.3,499.19 505.48,498.92 513.66,500.11 521.85,499.97 530.03,499.84 538.22,499.58 546.4,500.24" fill="none" stroke="#6a6af6" stroke-width="1.15" clip-path="url(#clipe)" stroke-linejoin="round"/>
<line x1="432" y1="459.5" x2="432" y2="500.5" stroke="#f01c24" stroke-width="1.6" stroke-dasharray="3 1.6"/>
<line x1="464.9" y1="459.5" x2="464.9" y2="500.5" stroke="#f01c24" stroke-width="1.6" stroke-dasharray="3 1.6"/>
<line x1="433" y1="478.4" x2="463.9" y2="478.4" stroke="#e8242c" stroke-width="1.8" />
<path d="M432.4,478.4 l4.6,-2.7 l-1.7,2.7 l1.7,2.7 z" stroke="#e8242c" stroke-width="0.9" fill="#e8242c" stroke-linejoin="round"/>
<path d="M464.5,478.4 l-4.6,-2.7 l1.7,2.7 l-1.7,2.7 z" stroke="#e8242c" stroke-width="0.9" fill="#e8242c" stroke-linejoin="round"/>
<text x="435" y="472.1" font-size="8.1" fill="#9a9a9a" text-anchor="start" textLength="28.1" lengthAdjust="spacingAndGlyphs" xml:space="preserve">[12  16]</text>
<text x="467.7" y="466.4" font-size="7" fill="#707070" text-anchor="middle" font-family='"Liberation Serif", serif' stroke="#707070" stroke-width="0.3">1</text>
<line x1="465" y1="468.7" x2="470.4" y2="468.7" stroke="#707070" stroke-width="0.75" />
<text x="467.7" y="475.8" font-size="7" fill="#707070" text-anchor="middle" font-family='"Liberation Serif", serif' stroke="#707070" stroke-width="0.3">T</text>
<text x="348" y="398" font-size="9.6" fill="#000" text-anchor="start" font-weight="bold" >(e)</text>
<text x="337" y="555.8" font-size="7.6" fill="#262626" text-anchor="start" font-weight="bold" textLength="12.8" lengthAdjust="spacingAndGlyphs" >x10</text>
<text x="350" y="553.1" font-size="5" fill="#262626" text-anchor="start" font-weight="bold" >7</text>
<text x="360" y="556.6" font-size="9.9" fill="#9a9a9a" text-anchor="start" textLength="170" lengthAdjust="spacingAndGlyphs" >Frequency spectrum of the curve in (a)</text>
<rect x="341.8" y="562" width="204.6" height="115" fill="none" stroke="#8f8f8f" stroke-width="1.1"/>
<line x1="374.54" y1="677" x2="374.54" y2="675" stroke="#555" stroke-width="0.6" />
<line x1="374.54" y1="562" x2="374.54" y2="564" stroke="#555" stroke-width="0.6" />
<text x="375.84" y="690.4" font-size="8.2" fill="#9a9a9a" text-anchor="middle" >5</text>
<line x1="415.46" y1="677" x2="415.46" y2="675" stroke="#555" stroke-width="0.6" />
<line x1="415.46" y1="562" x2="415.46" y2="564" stroke="#555" stroke-width="0.6" />
<text x="416.76" y="690.4" font-size="8.2" fill="#9a9a9a" text-anchor="middle" >10</text>
<line x1="456.38" y1="677" x2="456.38" y2="675" stroke="#555" stroke-width="0.6" />
<line x1="456.38" y1="562" x2="456.38" y2="564" stroke="#555" stroke-width="0.6" />
<text x="457.68" y="690.4" font-size="8.2" fill="#9a9a9a" text-anchor="middle" >15</text>
<line x1="497.3" y1="677" x2="497.3" y2="675" stroke="#555" stroke-width="0.6" />
<line x1="497.3" y1="562" x2="497.3" y2="564" stroke="#555" stroke-width="0.6" />
<text x="498.6" y="690.4" font-size="8.2" fill="#9a9a9a" text-anchor="middle" >20</text>
<line x1="538.22" y1="677" x2="538.22" y2="675" stroke="#555" stroke-width="0.6" />
<line x1="538.22" y1="562" x2="538.22" y2="564" stroke="#555" stroke-width="0.6" />
<text x="539.52" y="690.4" font-size="8.2" fill="#9a9a9a" text-anchor="middle" >25</text>
<line x1="341.8" y1="564.59" x2="343.8" y2="564.59" stroke="#555" stroke-width="0.6" />
<line x1="546.4" y1="564.59" x2="544.4" y2="564.59" stroke="#555" stroke-width="0.6" />
<text x="338.2" y="569.89" font-size="8.2" fill="#9a9a9a" text-anchor="end" >10</text>
<line x1="341.8" y1="587.07" x2="343.8" y2="587.07" stroke="#555" stroke-width="0.6" />
<line x1="546.4" y1="587.07" x2="544.4" y2="587.07" stroke="#555" stroke-width="0.6" />
<text x="338.2" y="592.37" font-size="8.2" fill="#9a9a9a" text-anchor="end" >8</text>
<line x1="341.8" y1="609.55" x2="343.8" y2="609.55" stroke="#555" stroke-width="0.6" />
<line x1="546.4" y1="609.55" x2="544.4" y2="609.55" stroke="#555" stroke-width="0.6" />
<text x="338.2" y="614.85" font-size="8.2" fill="#9a9a9a" text-anchor="end" >6</text>
<line x1="341.8" y1="632.03" x2="343.8" y2="632.03" stroke="#555" stroke-width="0.6" />
<line x1="546.4" y1="632.03" x2="544.4" y2="632.03" stroke="#555" stroke-width="0.6" />
<text x="338.2" y="637.33" font-size="8.2" fill="#9a9a9a" text-anchor="end" >4</text>
<line x1="341.8" y1="654.52" x2="343.8" y2="654.52" stroke="#555" stroke-width="0.6" />
<line x1="546.4" y1="654.52" x2="544.4" y2="654.52" stroke="#555" stroke-width="0.6" />
<text x="338.2" y="659.82" font-size="8.2" fill="#9a9a9a" text-anchor="end" >2</text>
<text x="338.2" y="682.3" font-size="8.2" fill="#9a9a9a" text-anchor="end" >0</text>
<text transform="translate(325,620.5) rotate(-90)" font-size="8.3" fill="#9a9a9a" text-anchor="middle" textLength="42.7" lengthAdjust="spacingAndGlyphs">(Amplitude)</text>
<text x="0" y="0" font-size="13" fill="#9a9a9a" text-anchor="middle" font-family='&quot;Liberation Serif&quot;, serif' transform="translate(442.2,703.3) scale(0.75,1) translate(0,0)">(</text>
<text x="0" y="0" font-size="13" fill="#9a9a9a" text-anchor="middle" font-family='&quot;Liberation Serif&quot;, serif' transform="translate(451.2,703.3) scale(0.75,1) translate(0,0)">)</text>
<text x="446.6" y="697.8" font-size="6.2" fill="#9a9a9a" text-anchor="middle" font-family='"Liberation Serif", serif' stroke="#9a9a9a" stroke-width="0.25">1</text>
<line x1="444.3" y1="699" x2="448.9" y2="699" stroke="#9a9a9a" stroke-width="0.7" />
<text x="446.6" y="704.7" font-size="6.2" fill="#9a9a9a" text-anchor="middle" font-family='"Liberation Serif", serif' stroke="#9a9a9a" stroke-width="0.25">T</text>
<clipPath id="clipg"><rect x="341.8" y="561.5" width="204.6" height="116"/></clipPath>
<polyline points="341.8,677 349.98,677 358.17,677 366.35,677 374.54,677 382.72,677 390.9,677 399.09,677 407.27,677 415.46,677 423.64,677 431.82,662.16" fill="none" stroke="#ff5050" stroke-width="1" clip-path="url(#clipg)" stroke-linejoin="round"/>
<polyline points="464.56,662.16 472.74,677 480.93,677 489.11,677 497.3,677 505.48,677 513.66,677 521.85,677 530.03,677 538.22,677 546.4,677" fill="none" stroke="#ff5050" stroke-width="1" clip-path="url(#clipg)" stroke-linejoin="round"/>
<polyline points="341.8,675.65 349.98,676.1 358.17,676.33 366.35,676.1 374.54,675.99 382.72,675.88 390.9,675.88 399.09,675.88 407.27,675.88 415.46,675.43 423.64,673.63 431.82,662.16 440.01,665.31 448.19,561.21 456.38,665.31 464.56,662.16 472.74,674.53 480.93,675.65 489.11,675.88 497.3,676.1 505.48,676.21 513.66,676.33 521.85,676.33 530.03,676.44 538.22,676.66 546.4,676.78" fill="none" stroke="#6a6af6" stroke-width="1.15" clip-path="url(#clipg)" stroke-linejoin="round"/>
<line x1="424.3" y1="636.5" x2="424.3" y2="677" stroke="#f01c24" stroke-width="1.6" stroke-dasharray="3 1.6"/>
<line x1="473.1" y1="636.5" x2="473.1" y2="677" stroke="#f01c24" stroke-width="1.6" stroke-dasharray="3 1.6"/>
<line x1="425.3" y1="654.8" x2="472.1" y2="654.8" stroke="#e8242c" stroke-width="1.8" />
<path d="M424.7,654.8 l4.6,-2.7 l-1.7,2.7 l1.7,2.7 z" stroke="#e8242c" stroke-width="0.9" fill="#e8242c" stroke-linejoin="round"/>
<path d="M472.7,654.8 l-4.6,-2.7 l1.7,2.7 l-1.7,2.7 z" stroke="#e8242c" stroke-width="0.9" fill="#e8242c" stroke-linejoin="round"/>
<text x="432.2" y="675.4" font-size="8.1" fill="#9a9a9a" text-anchor="start" textLength="25.6" lengthAdjust="spacingAndGlyphs" xml:space="preserve">[11  17]</text>
<text x="463.8" y="669.5" font-size="7" fill="#707070" text-anchor="middle" font-family='"Liberation Serif", serif' stroke="#707070" stroke-width="0.3">1</text>
<line x1="461.1" y1="671.8" x2="466.5" y2="671.8" stroke="#707070" stroke-width="0.75" />
<text x="463.8" y="678.3" font-size="7" fill="#707070" text-anchor="middle" font-family='"Liberation Serif", serif' stroke="#707070" stroke-width="0.3">T</text>
<text x="348" y="575.8" font-size="9.6" fill="#000" text-anchor="start" font-weight="bold" >(g)</text>
</svg>
</body></html>
